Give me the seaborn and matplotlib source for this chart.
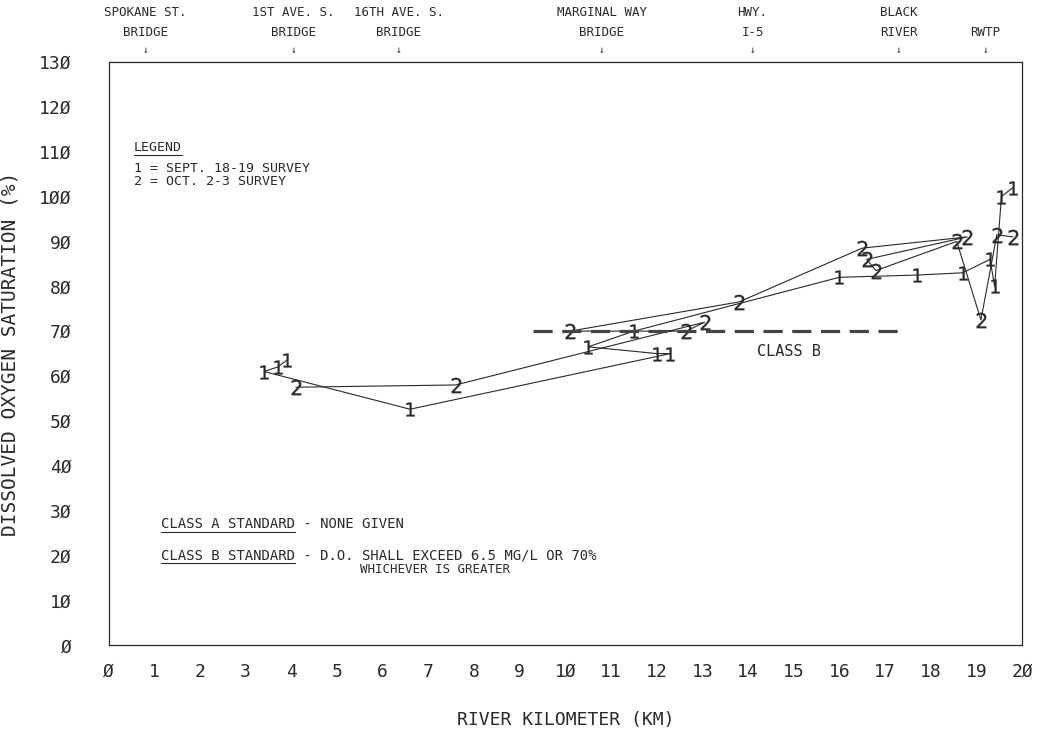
import matplotlib
matplotlib.use("Agg")
import matplotlib.pyplot as plt
import pandas as pd
import seaborn as sns
from matplotlib.lines import Line2D

# survey 1 (sept 18-19), points in the order the pen drew them
sept_km = [3.9, 3.7, 3.4, 6.6, 12.3, 12.0, 10.5, 11.5, 16.0, 17.7, 18.7, 19.3, 19.4, 19.55, 19.8]
sept_do = [63.5, 62, 61, 52.6, 65, 65, 66.5, 70, 82, 82.5, 83, 86, 80, 100, 102]

# survey 2 (oct 2-3)
oct_km = [4.1, 7.6, 13.05, 12.65, 10.1, 13.8, 16.5, 18.8, 16.6, 16.8, 18.57, 19.1, 19.45, 19.8]
oct_do = [57.5, 58, 72, 70, 70, 76.5, 88.5, 91, 86, 83.5, 90, 72.5, 91.5, 91]

# class B standard line
class_b_km = [9.3, 17.3]
class_b_do = [70, 70]

# landmarks along the top
landmark_km = [0.8, 4.05, 6.35, 10.8, 14.1, 17.3, 19.2]
landmark_top = ["SPOKANE ST.", "1ST AVE. S.", "16TH AVE. S.", "MARGINAL WAY", "HWY.", "BLACK", ""]
landmark_bottom = ["BRIDGE", "BRIDGE", "BRIDGE", "BRIDGE", "I-5", "RIVER", "RWTP"]

x_ticks = list(range(0, 21))
y_ticks = list(range(0, 131, 10))

sns.set_theme(style="white")
plt.rcParams["font.family"] = ["DejaVu Sans Mono", "DejaVu Sans"]

ink = "#2a2a2a"

fig, ax = plt.subplots(figsize=(10.45, 7.29), dpi=100)
fig.subplots_adjust(left=0.104, right=0.978, bottom=0.115, top=0.915)

sept = pd.DataFrame({"km": sept_km, "do": sept_do})
octo = pd.DataFrame({"km": oct_km, "do": oct_do})

sns.lineplot(data=sept, x="km", y="do", sort=False, estimator=None, color=ink, lw=0.8,
             marker="$1$", markersize=10, markeredgecolor=ink, markeredgewidth=0.2, ax=ax)
sns.lineplot(data=octo, x="km", y="do", sort=False, estimator=None, color=ink, lw=0.8,
             marker="$2$", markersize=11, markeredgecolor=ink, markeredgewidth=0.2, ax=ax)
sns.lineplot(x=class_b_km, y=class_b_do, color="#444444", lw=2.3, ax=ax)
ax.lines[-1].set_dashes((6, 3))

ax.set_xlim(0, 20)
ax.set_ylim(0, 130)
ax.set_xticks(x_ticks)
ax.set_yticks(y_ticks)
ax.set_xticklabels([str(v).replace("0", "Ø") for v in x_ticks])
ax.set_yticklabels([str(v).replace("0", "Ø") for v in y_ticks])
ax.tick_params(axis="both", direction="inout", length=9, width=0.8, color=ink,
               labelsize=13, labelcolor=ink)
ax.tick_params(axis="y", pad=22)
ax.tick_params(axis="x", pad=8)
for s in ax.spines.values():
    s.set_color(ink)
    s.set_linewidth(0.9)

ax.set_xlabel("RIVER KILOMETER (KM)", fontsize=13, color=ink, labelpad=22)
ax.set_ylabel("DISSOLVED OXYGEN SATURATION (%)", fontsize=14, color=ink, labelpad=14)

# landmark labels above the plot
xt = ax.get_xaxis_transform()
for km, top, bot in zip(landmark_km, landmark_top, landmark_bottom):
    if top:
        ax.text(km, 1.084, top, transform=xt, ha="center", va="center", fontsize=9, color=ink)
    ax.text(km, 1.051, bot, transform=xt, ha="center", va="center", fontsize=9, color=ink)
    ax.text(km, 1.020, "↓", transform=xt, ha="center", va="center", fontsize=7, color=ink)

# legend and standards notes
notes = []
notes.append((ax.text(0.55, 111, "LEGEND", fontsize=9.5, color=ink, va="center"), 6))
ax.text(0.55, 106.3, "1 = SEPT. 18-19 SURVEY", fontsize=9.5, color=ink, va="center")
ax.text(0.55, 103.4, "2 = OCT. 2-3 SURVEY", fontsize=9.5, color=ink, va="center")
notes.append((ax.text(1.15, 27, "CLASS A STANDARD - NONE GIVEN", fontsize=10, color=ink, va="center"), 16))
notes.append((ax.text(1.15, 20, "CLASS B STANDARD - D.O. SHALL EXCEED 6.5 MG/L OR 70%",
                      fontsize=10, color=ink, va="center"), 16))
ax.text(5.5, 16.8, "WHICHEVER IS GREATER", fontsize=9, color=ink, va="center")
ax.text(14.2, 65.5, "CLASS B", fontsize=11, color=ink, va="center")

# underline the headings
fig.canvas.draw()
r = fig.canvas.get_renderer()
W, H = fig.bbox.width, fig.bbox.height
for t, n in notes:
    bb = t.get_window_extent(r)
    w = bb.width * n / len(t.get_text())
    y = bb.y0 - 1
    fig.add_artist(Line2D([bb.x0 / W, (bb.x0 + w) / W], [y / H, y / H], color=ink, lw=0.8))

fig.savefig("out.png", dpi=100)
